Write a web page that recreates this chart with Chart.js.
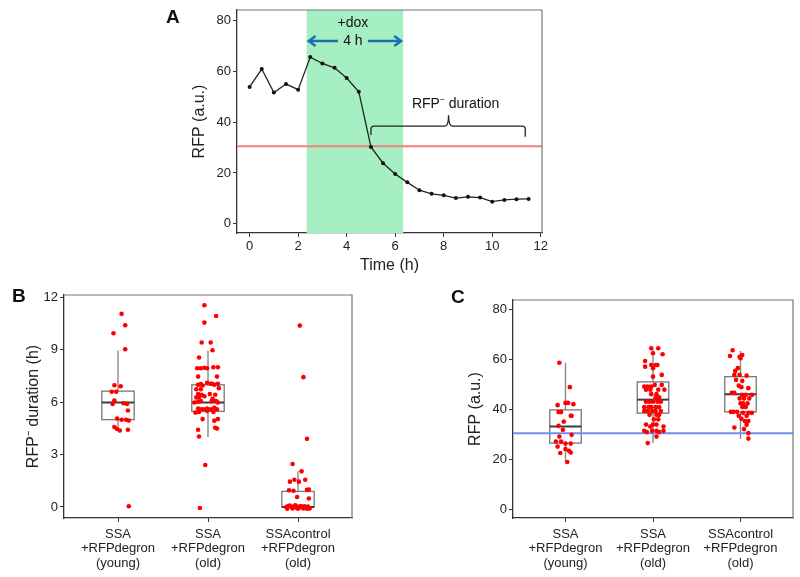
<!DOCTYPE html>
<html>
<head>
<meta charset="utf-8">
<script src="https://cdn.jsdelivr.net/npm/chart.js@4.4.0/dist/chart.umd.min.js"></script>
<style>
  body { margin: 0; background: #fff; width: 800px; height: 577px; position: relative; overflow: hidden;
         font-family: "Liberation Sans", Arial, sans-serif; }
  canvas { position: absolute; }
  .tag { position: absolute; font-weight: bold; font-size: 19px; line-height: 1; color: #111; }
</style>
</head>
<body>
<canvas id="chartA" width="400" height="285" style="left:160px;top:0"></canvas>
<canvas id="chartB" width="400" height="297" style="left:0;top:280px"></canvas>
<canvas id="chartC" width="380" height="297" style="left:420px;top:280px"></canvas>
<div class="tag" style="left:166px;top:7px">A</div>
<div class="tag" style="left:12px;top:286px">B</div>
<div class="tag" style="left:451px;top:287px">C</div>
<script>
// panel A: one cell's RFP trace
const timeH = [0, 0.5, 1, 1.5, 2, 2.5, 3, 3.5, 4, 4.5, 5, 5.5, 6, 6.5, 7, 7.5, 8, 8.5, 9, 9.5, 10, 10.5, 11, 11.5];
const rfpTrace = [53.8, 60.8, 51.6, 54.9, 52.7, 65.5, 63.0, 61.3, 57.3, 51.9, 30.2, 23.8, 19.6, 16.3,
                  13.2, 11.8, 11.2, 10.1, 10.6, 10.3, 8.7, 9.4, 9.7, 9.8];
const timeTicks = [0, 2, 4, 6, 8, 10, 12];
const rfpTicks = [0, 20, 40, 60, 80];
const doxStart = 2.35, doxEnd = 6.33;
const rfpThreshold = 30.5;

// panels B and C: groups, cells as [jitter, value]
const groupLabels = [['SSA', '+RFPdegron', '(young)'], ['SSA', '+RFPdegron', '(old)'], ['SSAcontrol', '+RFPdegron', '(old)']];

const durYoung = [[0.04, 11.05], [0.08, 10.4], [-0.05, 9.94], [0.08, 9.03], [-0.04, 6.97], [0.03, 6.91],
  [-0.07, 6.59], [-0.02, 6.59], [-0.04, 6.09], [-0.06, 5.9], [0.06, 5.94], [0.10, 5.9], [0.11, 5.52],
  [-0.01, 5.06], [0.04, 4.99], [0.09, 4.99], [0.12, 4.95], [-0.04, 4.57], [-0.01, 4.46], [0.02, 4.38],
  [0.11, 4.42], [0.12, 0.04]];
const durOld = [[-0.04, 11.54], [0.09, 10.93], [-0.04, 10.55], [-0.07, 9.41], [0.03, 9.41], [0.05, 8.97],
  [-0.10, 8.55], [-0.12, 7.94], [-0.08, 7.94], [-0.04, 7.97], [-0.01, 7.94], [0.06, 8.0], [0.11, 8.0],
  [-0.11, 7.46], [0.10, 7.46], [-0.01, 7.1], [-0.11, 6.99], [-0.08, 7.03], [-0.06, 6.95], [0.03, 7.05],
  [0.04, 7.05], [0.07, 7.0], [0.11, 7.05], [-0.13, 6.74], [-0.08, 6.74], [0.12, 6.8], [-0.11, 6.46],
  [-0.07, 6.42], [-0.04, 6.34], [0.02, 6.46], [0.08, 6.42], [-0.13, 6.27], [-0.10, 6.27], [0.05, 6.19],
  [-0.15, 5.98], [-0.11, 6.02], [-0.08, 6.06], [0.04, 6.06], [0.06, 6.1], [0.09, 6.06], [0.11, 5.98],
  [-0.11, 5.63], [-0.08, 5.59], [-0.05, 5.59], [-0.01, 5.63], [0.03, 5.59], [0.07, 5.68], [0.10, 5.59],
  [-0.14, 5.4], [-0.10, 5.44], [-0.01, 5.5], [0.06, 5.44], [-0.06, 5.03], [0.07, 4.94], [0.11, 5.03],
  [0.08, 4.53], [0.10, 4.49], [-0.11, 4.42], [-0.10, 4.03], [-0.03, 2.4], [-0.09, -0.06]];
const durCtrl = [[0.02, 10.38], [0.06, 7.43], [0.10, 3.9], [-0.06, 2.46], [0.04, 2.04], [-0.09, 1.45],
  [-0.04, 1.56], [0.01, 1.45], [0.08, 1.56], [-0.10, 0.96], [-0.05, 0.93], [0.10, 0.98], [0.12, 1.0],
  [-0.01, 0.57], [0.12, 0.49], [-0.13, 0.0], [-0.11, 0.05], [-0.09, 0.08], [-0.07, -0.02], [-0.05, 0.03],
  [-0.03, 0.1], [-0.01, 0.02], [0.01, -0.05], [0.03, 0.06], [0.05, 0.0], [0.07, 0.04], [0.09, -0.03],
  [0.11, 0.02], [0.13, -0.08], [-0.12, -0.1], [-0.06, -0.08], [0.0, -0.1], [0.06, -0.09], [0.10, -0.1],
  [-0.02, -0.03]];
const durTicks = [0, 3, 6, 9, 12];
const durLow = [4.4, 4.0, 0];
const durQ1 = [5.0, 5.47, 0];
const durMed = [5.98, 5.98, 0];
const durQ3 = [6.63, 6.99, 0.89];
const durHigh = [8.95, 8.95, 2.04];

const rfpYoung = [[-0.07, 58.8], [0.05, 49.0], [-0.09, 41.8], [0.0, 42.7], [0.03, 42.7], [0.09, 42.2],
  [-0.08, 39.0], [-0.05, 39.0], [-0.02, 35.2], [0.06, 37.5], [0.07, 37.5], [-0.08, 33.5], [-0.03, 31.9],
  [0.07, 29.9], [-0.07, 29.2], [-0.11, 27.2], [-0.05, 27.2], [0.0, 26.4], [0.06, 26.4], [-0.09, 25.2],
  [0.0, 24.2], [0.04, 23.5], [0.06, 22.8], [-0.06, 22.6], [0.02, 19.0]];
const rfpOld = [[-0.02, 64.6], [0.06, 64.6], [0.0, 62.6], [0.11, 62.2], [-0.09, 59.5], [-0.09, 57.2],
  [-0.02, 57.9], [0.03, 57.9], [0.05, 57.9], [0.0, 56.6], [0.10, 53.9], [0.0, 53.2], [-0.10, 49.2],
  [-0.06, 49.2], [-0.02, 49.2], [0.02, 49.9], [0.10, 49.9], [-0.08, 48.0], [-0.03, 48.0], [0.06, 48.0],
  [0.13, 48.0], [-0.02, 46.2], [0.04, 46.2], [0.07, 44.9], [0.03, 44.9], [-0.08, 43.2], [-0.04, 43.2],
  [0.0, 43.2], [0.05, 43.2], [0.09, 43.2], [-0.10, 41.0], [-0.05, 41.0], [-0.02, 41.0], [0.03, 41.0],
  [0.07, 41.0], [-0.10, 39.4], [-0.06, 39.4], [-0.01, 39.4], [0.03, 39.4], [0.09, 39.4], [-0.04, 37.9],
  [0.04, 37.9], [0.07, 37.9], [0.01, 36.1], [0.06, 36.1], [-0.08, 34.0], [0.0, 34.0], [0.04, 34.0],
  [-0.03, 33.2], [0.12, 33.2], [-0.10, 31.5], [-0.01, 31.5], [0.04, 31.5], [0.12, 31.5], [-0.07, 31.0],
  [0.07, 31.0], [0.04, 29.2], [-0.06, 26.6]];
const rfpCtrl = [[-0.09, 63.8], [-0.12, 61.5], [-0.01, 61.2], [0.02, 61.9], [0.0, 60.6], [-0.03, 56.6],
  [-0.06, 55.5], [-0.07, 53.9], [-0.01, 53.9], [0.07, 53.6], [-0.05, 51.9], [0.02, 51.5], [-0.02, 49.6],
  [0.01, 49.0], [0.09, 48.6], [-0.10, 46.7], [-0.07, 46.7], [0.02, 45.9], [0.06, 45.9], [0.13, 45.9],
  [-0.01, 44.5], [0.04, 44.5], [0.10, 44.5], [0.0, 42.5], [0.03, 42.5], [0.08, 42.5], [0.02, 41.1],
  [0.06, 41.1], [-0.11, 39.1], [-0.08, 39.1], [-0.04, 39.1], [0.03, 38.7], [0.09, 38.7], [0.13, 38.7],
  [-0.02, 37.5], [0.07, 37.5], [0.05, 35.4], [0.09, 35.4], [0.01, 36.3], [-0.07, 32.8], [0.07, 33.9],
  [0.04, 32.2], [0.09, 30.6], [0.09, 28.4]];
const rfpLow = [19.0, 26.6, 28.2];
const rfpQ1 = [26.6, 38.6, 39.1];
const rfpMed = [33.2, 44.0, 46.2];
const rfpQ3 = [39.9, 51.1, 53.2];
const rfpHigh = [58.8, 64.1, 63.5];

Chart.defaults.font.family = '"Liberation Sans", Arial, sans-serif';
Chart.defaults.color = '#222';
Chart.defaults.animation = false;

const setTicks = vals => scale => { scale.ticks = vals.map(v => ({ value: v })); };

function axis(min, max, tickVals, extra) {
  return Object.assign({
    type: 'linear', min: min, max: max,
    afterBuildTicks: setTicks(tickVals),
    border: { display: true, color: '#333', width: 1.3 },
    grid: { drawOnChartArea: false, drawTicks: true, tickLength: 4, color: '#333' },
    ticks: { color: '#222', font: { size: 13 }, padding: 2 }
  }, extra);
}

// light frame on the top and right sides of the panel
const frame = {
  id: 'frame',
  afterDraw(chart) {
    const { ctx, chartArea: a } = chart;
    ctx.save();
    ctx.strokeStyle = '#777';
    ctx.lineWidth = 1.2;
    ctx.beginPath();
    ctx.moveTo(a.left, a.top);
    ctx.lineTo(a.right, a.top);
    ctx.lineTo(a.right, a.bottom);
    ctx.stroke();
    ctx.restore();
  }
};

function boxLayer(low, q1, med, q3, high, refLine) {
  return {
    id: 'boxLayer',
    beforeDatasetsDraw(chart) {
      const { ctx, chartArea: a, scales: { x, y } } = chart;
      ctx.save();
      q1.forEach((q, i) => {
        const cx = x.getPixelForValue(i + 1);
        const hw = x.getPixelForValue(i + 1.18) - cx;
        ctx.strokeStyle = '#8a8a8a';
        ctx.lineWidth = 1.4;
        ctx.beginPath();
        ctx.moveTo(cx, y.getPixelForValue(high[i]));
        ctx.lineTo(cx, y.getPixelForValue(q3[i]));
        ctx.moveTo(cx, y.getPixelForValue(q));
        ctx.lineTo(cx, y.getPixelForValue(low[i]));
        ctx.stroke();
        ctx.strokeStyle = '#777';
        ctx.lineWidth = 1.3;
        const top = y.getPixelForValue(q3[i]);
        ctx.strokeRect(cx - hw, top, hw * 2, y.getPixelForValue(q) - top);
        ctx.strokeStyle = '#3c3c3c';
        ctx.lineWidth = 2;
        const ym = y.getPixelForValue(med[i]);
        ctx.beginPath();
        ctx.moveTo(cx - hw, ym);
        ctx.lineTo(cx + hw, ym);
        ctx.stroke();
      });
      if (refLine !== undefined) {
        const yr = y.getPixelForValue(refLine);
        ctx.strokeStyle = '#6f8ff2';
        ctx.lineWidth = 2;
        ctx.beginPath();
        ctx.moveTo(a.left, yr);
        ctx.lineTo(a.right, yr);
        ctx.stroke();
      }
      ctx.restore();
    }
  };
}

const traceNotes = {
  id: 'traceNotes',
  beforeDatasetsDraw(chart) {
    const { ctx, chartArea: a, scales: { x, y } } = chart;
    const x0 = x.getPixelForValue(doxStart), x1 = x.getPixelForValue(doxEnd);
    ctx.save();
    ctx.fillStyle = '#a5efc2';
    ctx.fillRect(x0, a.top, x1 - x0, a.height);
    const yt = y.getPixelForValue(rfpThreshold);
    ctx.strokeStyle = '#f47f7f';
    ctx.lineWidth = 2;
    ctx.beginPath();
    ctx.moveTo(a.left, yt);
    ctx.lineTo(a.right, yt);
    ctx.stroke();
    ctx.restore();
  },
  afterDatasetsDraw(chart) {
    const { ctx, scales: { x, y } } = chart;
    const x0 = x.getPixelForValue(doxStart) + 2, x1 = x.getPixelForValue(doxEnd) - 2;
    const mid = (x0 + x1) / 2 - 2;
    ctx.save();
    ctx.fillStyle = '#111';
    ctx.font = '14px "Liberation Sans", Arial, sans-serif';
    ctx.textAlign = 'center';
    ctx.textBaseline = 'middle';
    ctx.fillText('+dox', mid, y.getPixelForValue(78.8));
    const ay = y.getPixelForValue(71.8);
    ctx.fillText('4 h', mid, ay);
    ctx.strokeStyle = '#1f6fae';
    ctx.lineWidth = 2.4;
    ctx.beginPath();
    ctx.moveTo(x0, ay); ctx.lineTo(mid - 15, ay);
    ctx.moveTo(mid + 15, ay); ctx.lineTo(x1, ay);
    ctx.moveTo(x0 + 7, ay - 5); ctx.lineTo(x0, ay); ctx.lineTo(x0 + 7, ay + 5);
    ctx.moveTo(x1 - 7, ay - 5); ctx.lineTo(x1, ay); ctx.lineTo(x1 - 7, ay + 5);
    ctx.stroke();

    // bracket over the RFP-negative stretch
    const bx0 = x.getPixelForValue(5.0), bx1 = x.getPixelForValue(11.36), bm = x.getPixelForValue(8.2);
    const by = y.getPixelForValue(38.4), tip = y.getPixelForValue(42.7);
    ctx.strokeStyle = '#222';
    ctx.lineWidth = 1.3;
    ctx.beginPath();
    ctx.moveTo(bx0, y.getPixelForValue(34.9));
    ctx.lineTo(bx0, by + 3);
    ctx.quadraticCurveTo(bx0, by, bx0 + 3, by);
    ctx.lineTo(bm - 4, by);
    ctx.quadraticCurveTo(bm, by, bm, tip);
    ctx.quadraticCurveTo(bm, by, bm + 4, by);
    ctx.lineTo(bx1 - 3, by);
    ctx.quadraticCurveTo(bx1, by, bx1, by + 3);
    ctx.lineTo(bx1, y.getPixelForValue(34.2));
    ctx.stroke();
    ctx.fillText('RFP\u207B duration', x.getPixelForValue(8.49), y.getPixelForValue(47.0));
    ctx.restore();
  }
};

new Chart(document.getElementById('chartA'), {
  type: 'line',
  data: {
    datasets: [{
      data: timeH.map((t, i) => ({ x: t, y: rfpTrace[i] })),
      borderColor: '#222', borderWidth: 1.3, tension: 0,
      pointRadius: 2, pointBackgroundColor: '#111', pointBorderWidth: 0
    }]
  },
  options: {
    responsive: false, devicePixelRatio: 1,
    layout: { padding: { top: 10, right: 18, left: 0, bottom: 0 } },
    plugins: { legend: { display: false }, tooltip: { enabled: false } },
    scales: {
      x: axis(-0.52, 12.05, timeTicks, {
        afterFit: s => { s.height = 52; },
        title: { display: true, text: 'Time (h)', font: { size: 16 }, color: '#222', padding: { bottom: 10 } }
      }),
      y: axis(-3.6, 84, rfpTicks, {
        afterFit: s => { s.width = 77; },
        title: { display: true, text: 'RFP (a.u.)', font: { size: 16 }, color: '#222', padding: { top: 30 } }
      })
    }
  },
  plugins: [traceNotes, frame]
});

function groupPoints(cells, g) {
  return cells.map(c => ({ x: g + c[0], y: c[1] }));
}

function boxChart(id, groups, yMin, yMax, yTicks, yTitle, yWidth, titlePad, padTop, padRight, layer) {
  new Chart(document.getElementById(id), {
    type: 'scatter',
    data: {
      datasets: [{
        data: groups.flatMap((cells, i) => groupPoints(cells, i + 1)),
        pointRadius: 2.3, pointBackgroundColor: '#ff0000', pointBorderWidth: 0
      }]
    },
    options: {
      responsive: false, devicePixelRatio: 1,
      layout: { padding: { top: padTop, right: padRight, left: 0, bottom: 0 } },
      plugins: { legend: { display: false }, tooltip: { enabled: false } },
      scales: {
        x: axis(0.4, 3.6, [1, 2, 3], {
          afterFit: s => { s.height = 59; },
          ticks: { color: '#222', font: { size: 13, lineHeight: 1.12 }, padding: 5,
                   maxRotation: 0, callback: (v, i) => groupLabels[i] }
        }),
        y: axis(yMin, yMax, yTicks, {
          afterFit: s => { s.width = yWidth; },
          title: { display: true, text: yTitle, font: { size: 16 }, color: '#222', padding: { top: titlePad } }
        })
      }
    },
    plugins: [layer, frame]
  });
}

boxChart('chartB', [durYoung, durOld, durCtrl], -0.63, 12.13, durTicks, 'RFP\u207B duration (h)', 64, 24, 15, 48,
  boxLayer(durLow, durQ1, durMed, durQ3, durHigh));
boxChart('chartC', [rfpYoung, rfpOld, rfpCtrl], -3.4, 83.9, rfpTicks, 'RFP (a.u.)', 93, 46, 20, 7,
  boxLayer(rfpLow, rfpQ1, rfpMed, rfpQ3, rfpHigh, rfpThreshold));
</script>
</body>
</html>
